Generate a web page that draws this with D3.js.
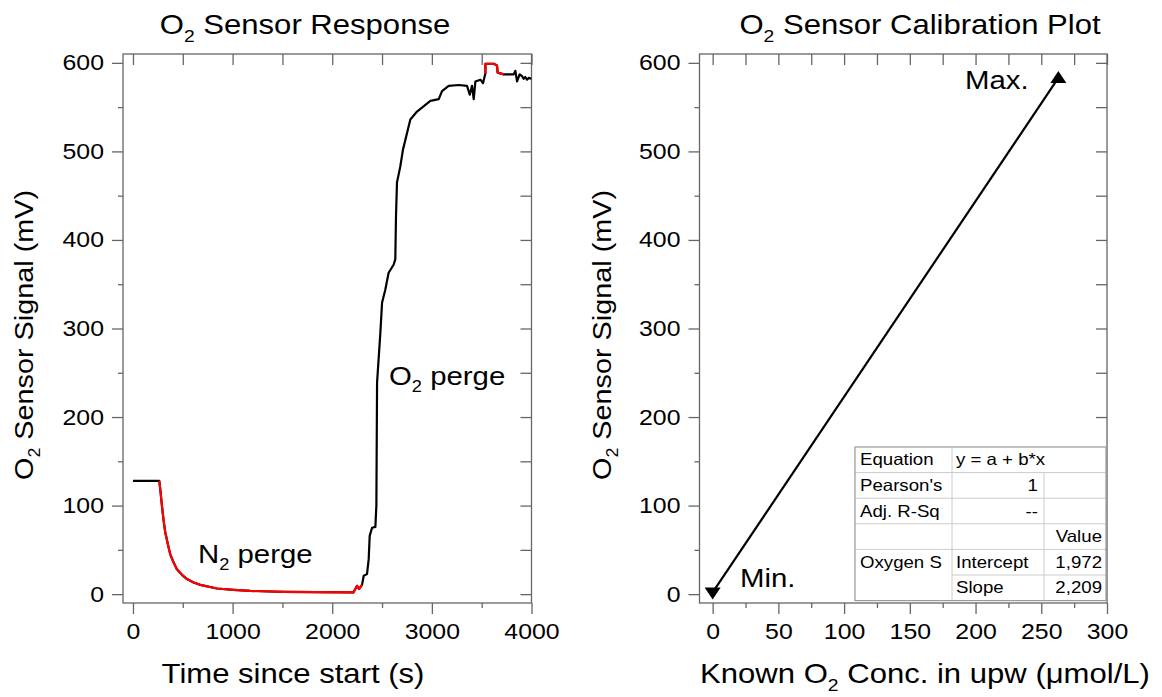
<!DOCTYPE html>
<html><head><meta charset="utf-8">
<script src="https://cdn.jsdelivr.net/npm/d3@7/dist/d3.min.js"></script>
<style>
html,body{margin:0;padding:0;background:#fff;}
text{font-family:"Liberation Sans",Arial,sans-serif;fill:#000;}
</style></head>
<body>
<svg id="chart" width="1162" height="697"></svg>
<script>
// ---------------- DATA ----------------
// Left panel: sensor response over time
const respTime = [0, 264, 274, 291, 308, 324, 351, 374, 408, 441, 492, 542, 609, 676, 843, 1010,
  1178, 1512, 1847, 2213,
  2249, 2270, 2299, 2316, 2349, 2366, 2376, 2400, 2433, 2443, 2450, 2483, 2500, 2533, 2566,
  2616, 2633, 2640, 2650, 2683, 2710, 2784, 2851, 2985, 3069, 3102, 3169, 3269, 3353, 3380,
  3403, 3420, 3437, 3487, 3513, 3537, 3538, 3621, 3654, 3660, 3721, 3821, 3838, 3855, 3881,
  3905, 3921, 3938, 3955, 3972, 3998];
const respSignal = [128, 128, 118.5, 99.7, 82.7, 70, 56, 45, 35.7, 28, 21.8, 17, 13.2, 10.5, 6.4, 4.9,
  3.7, 2.6, 2.2, 1.9,
  9.4, 6, 10.5, 20.7, 22.6, 39.5, 65.8, 75, 76, 100, 239, 295, 329, 344, 363,
  372, 378, 427, 465, 483, 502, 536, 545, 557, 559, 568, 574, 575, 574, 564,
  574, 559, 579, 581, 577, 588, 599, 599, 597, 589, 587, 587, 591, 579, 587,
  585, 582, 584, 581, 583, 582];
// time windows drawn in red (purge phases)
const redSpans = [[264, 2299], [3537, 3721]];

// Right panel: calibration
const calConc = [0, 263];
const calSignal = [1.97, 583];
const calLabels = ["Min.", "Max."];

// Axis ticks
const respTicksX = [0, 1000, 2000, 3000, 4000];
const respMinorX = [500, 1500, 2500, 3500];
const calTicksX = [0, 50, 100, 150, 200, 250, 300];
const calMinorX = [25, 75, 125, 175, 225, 275];
const sigTicksY = [0, 100, 200, 300, 400, 500, 600];
const sigMinorY = [50, 150, 250, 350, 450, 550];

// Fit table
const fitRowHeads = ["Equation", "Pearson's", "Adj. R-Sq", "", "Oxygen S", ""];
const fitRowMid = ["y = a + b*x", "1", "--", "", "Intercept", "Slope"];
const fitRowVal = ["", "", "", "Value", "1,972", "2,209"];

// ---------------- DRAW ----------------
const SX = 1.13;            // glyph width factor of the original font
const svg = d3.select("#chart");
const frameColor = "#666";

function richText(g, x, y, parts, size, anchor, rotate) {
  const t = g.append("text")
    .attr("transform", `translate(${x},${y})` + (rotate ? ` rotate(${rotate})` : "") + ` scale(${SX},1)`)
    .attr("font-size", size)
    .attr("text-anchor", anchor || "start");
  parts.forEach(p => {
    if (p.sub) {
      t.append("tspan").attr("font-size", size * 0.62).attr("dy", size * 0.28).text(p.t);
    } else {
      t.append("tspan").attr("dy", p.after ? -size * 0.28 : 0).text(p.t);
    }
  });
  return t;
}

function stretchLabels(axisG) {
  axisG.selectAll("text").each(function () {
    const t = d3.select(this);
    const x = +t.attr("x") || 0;
    t.attr("x", x / SX).attr("transform", `scale(${SX},1)`);
  });
}

function panel(xScale, yScale, xMajor, xMinor, xTop) {
  const g = svg.append("g");
  const [x0, x1] = xScale.range();
  const [y0, y1] = yScale.range(); // y0 bottom, y1 top
  const bx = g.append("g").attr("transform", `translate(0,${y0})`)
    .call(d3.axisBottom(xScale).tickValues(xMajor).tickSize(11).tickPadding(9).tickFormat(d3.format("d")));
  g.append("g").attr("transform", `translate(0,${y0})`)
    .call(d3.axisBottom(xScale).tickValues(xMinor).tickSize(5).tickFormat(""));
  g.append("g").attr("transform", `translate(0,${y1})`)
    .call(d3.axisTop(xScale).tickValues(xTop).tickSize(-11).tickFormat(""));
  const ly = g.append("g").attr("transform", `translate(${x0},0)`)
    .call(d3.axisLeft(yScale).tickValues(sigTicksY).tickSize(11).tickPadding(8).tickFormat(d3.format("d")));
  g.append("g").attr("transform", `translate(${x0},0)`)
    .call(d3.axisLeft(yScale).tickValues(sigMinorY).tickSize(5).tickFormat(""));
  g.append("g").attr("transform", `translate(${x1},0)`)
    .call(d3.axisRight(yScale).tickValues(sigTicksY.concat(sigMinorY)).tickSize(-11).tickFormat(""));
  g.selectAll(".domain").remove();
  g.selectAll(".tick line").attr("stroke", frameColor).attr("stroke-width", 1.3);
  g.selectAll(".tick text").attr("font-size", 22).attr("fill", "#000")
    .attr("font-family", '"Liberation Sans",Arial,sans-serif');
  stretchLabels(bx); stretchLabels(ly);
  g.append("rect").attr("x", x0).attr("y", y1).attr("width", x1 - x0).attr("height", y0 - y1)
    .attr("fill", "none").attr("stroke", frameColor).attr("stroke-width", 1.3);
  return g;
}

// ---- Left panel ----
const xL = d3.scaleLinear().domain([-100, 4000]).range([123, 531.5]);
const yL = d3.scaleLinear().domain([-10, 610]).range([603, 54]);
const gL = panel(xL, yL, respTicksX, respMinorX, respTicksX.concat(respMinorX));

const respPts = respTime.map((t, i) => [t, respSignal[i]]);
const lineL = d3.line().x(d => xL(d[0])).y(d => yL(d[1]));
gL.append("path").datum(respPts).attr("d", lineL)
  .attr("fill", "none").attr("stroke", "#000").attr("stroke-width", 2.2).attr("stroke-linejoin", "round");
redSpans.forEach(([a, b]) => {
  gL.append("path").datum(respPts.filter(d => d[0] >= a && d[0] <= b)).attr("d", lineL)
    .attr("fill", "none").attr("stroke", "#ff0000").attr("stroke-width", 2.2).attr("stroke-linejoin", "round");
});

richText(svg, 305, 34, [{t: "O"}, {t: "2", sub: true}, {t: " Sensor Response", after: true}], 27.5, "middle");
richText(svg, 293, 683, [{t: "Time since start (s)"}], 27.5, "middle");
richText(svg, 33, 335, [{t: "O"}, {t: "2", sub: true}, {t: " Sensor Signal (mV)", after: true}], 25.5, "middle", -90);
richText(svg, 198, 563, [{t: "N"}, {t: "2", sub: true}, {t: " perge", after: true}], 26, "start");
richText(svg, 389, 385, [{t: "O"}, {t: "2", sub: true}, {t: " perge", after: true}], 26, "start");

// ---- Right panel ----
const xR = d3.scaleLinear().domain([-10, 300]).range([699.5, 1107]);
const yR = d3.scaleLinear().domain([-10, 610]).range([603, 54]);
const gR = panel(xR, yR, calTicksX, calMinorX, calTicksX.concat(calMinorX));

const calPts = calConc.map((c, i) => [c, calSignal[i]]);
gR.append("path").datum(calPts)
  .attr("d", d3.line().x(d => xR(d[0])).y(d => yR(d[1])))
  .attr("fill", "none").attr("stroke", "#000").attr("stroke-width", 2.2);
gR.selectAll(".mk").data(calPts).enter().append("path")
  .attr("transform", d => `translate(${xR(d[0])},${yR(d[1])})`)
  .attr("d", (d, i) => i === 0 ? "M0,7L8,-5L-8,-5Z" : "M0,-7L8,5L-8,5Z")
  .attr("fill", "#000");
richText(svg, 740, 587, [{t: calLabels[0]}], 26, "start");
richText(svg, 965, 89, [{t: calLabels[1]}], 26, "start");

richText(svg, 920, 34, [{t: "O"}, {t: "2", sub: true}, {t: " Sensor Calibration Plot", after: true}], 27.5, "middle");
richText(svg, 925, 683, [{t: "Known O"}, {t: "2", sub: true}, {t: " Conc. in upw (μmol/L)", after: true}], 27.5, "middle");
richText(svg, 611, 335, [{t: "O"}, {t: "2", sub: true}, {t: " Sensor Signal (mV)", after: true}], 25.5, "middle", -90);

// ---- Fit table ----
const tb = {x0: 855, x1: 952, x2: 1044, x3: 1106, y0: 447, rh: 25.6};
const tg = svg.append("g");
const nRows = fitRowHeads.length;
tg.append("rect").attr("x", tb.x0).attr("y", tb.y0).attr("width", tb.x3 - tb.x0)
  .attr("height", tb.rh * nRows).attr("fill", "#fff");
for (let r = 1; r < nRows; r++) {
  const y = tb.y0 + r * tb.rh;
  const startX = (r === 5) ? tb.x1 : tb.x0;
  tg.append("line").attr("x1", startX).attr("x2", tb.x3).attr("y1", y).attr("y2", y)
    .attr("stroke", "#ccc").attr("stroke-width", 1);
}
tg.append("line").attr("x1", tb.x1).attr("x2", tb.x1).attr("y1", tb.y0).attr("y2", tb.y0 + tb.rh * nRows)
  .attr("stroke", "#ccc");
tg.append("line").attr("x1", tb.x2).attr("x2", tb.x2).attr("y1", tb.y0 + tb.rh).attr("y2", tb.y0 + tb.rh * nRows)
  .attr("stroke", "#ccc");
tg.append("rect").attr("x", tb.x0).attr("y", tb.y0).attr("width", tb.x3 - tb.x0)
  .attr("height", tb.rh * nRows).attr("fill", "none").attr("stroke", "#999").attr("stroke-width", 1.2);
fitRowHeads.forEach((s, r) => {
  const yb = tb.y0 + r * tb.rh + tb.rh * 0.72;
  if (s) richText(tg, tb.x0 + 5, yb, [{t: s}], 16.5, "start");
  const m = fitRowMid[r];
  if (m) {
    const numeric = /^[\d\-]/.test(m) && r < 3;
    richText(tg, numeric ? tb.x2 - 6 : tb.x1 + 4, yb, [{t: m}], 16.5, numeric ? "end" : "start");
  }
  const v = fitRowVal[r];
  if (v) richText(tg, tb.x3 - 4, yb, [{t: v}], 16.5, "end");
});
</script>
</body></html>
